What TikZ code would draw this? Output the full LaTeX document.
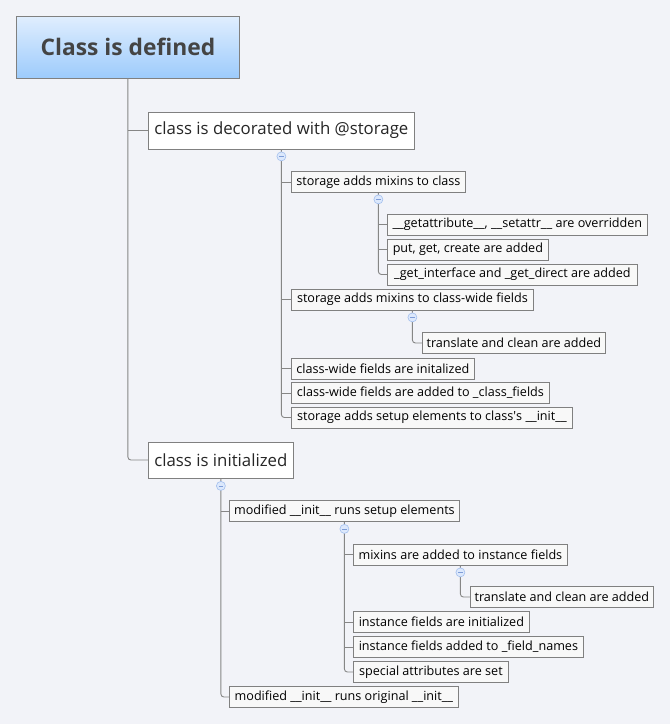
\documentclass[tikz,border=0pt]{standalone}
\usepackage{fontspec}
\setmainfont{Open Sans}
\definecolor{bgcol}{HTML}{F2F3F8}
\definecolor{boxborder}{HTML}{808080}
\definecolor{linecol}{HTML}{868686}
\definecolor{smallfill}{HTML}{F8F8F8}
\definecolor{roottop}{HTML}{E0EEFE}
\definecolor{rootbot}{HTML}{9DCBFC}
\definecolor{roottext}{HTML}{444444}
\definecolor{togfill}{HTML}{DCE8FC}
\definecolor{togdraw}{HTML}{A3BFEE}
\definecolor{togminus}{HTML}{7F9DD8}
\begin{document}
\begin{tikzpicture}[x=1pt,y=-1pt,
  box/.style={draw=boxborder, line width=0.8pt, fill=smallfill, inner sep=0pt,
    minimum height=21pt, text=black, font=\fontsize{12.6}{14}\selectfont},
  lonebox/.style={draw=boxborder, line width=0.8pt, fill=white, inner sep=0pt,
    minimum height=37pt, text=black!85, font=\fontsize{16.8}{19}\selectfont},
  rootbox/.style={draw=boxborder, line width=0.8pt, top color=roottop, bottom color=rootbot,
    inner sep=0pt, minimum width=223pt, minimum height=62pt, text=roottext,
    font=\bfseries\fontsize{22.8}{26}\selectfont},
  conn/.style={draw=linecol, line width=0.9pt, rounded corners=3pt},
  tog/.style={circle, draw=togdraw, fill=togfill, line width=0.6pt, minimum size=9pt, inner sep=0pt,
    path picture={\draw[togminus, line width=0.7pt]
      ([xshift=-2.2pt]path picture bounding box.center) -- ([xshift=2.2pt]path picture bounding box.center);}}
]
\fill[bgcol] (0,0) rectangle (670,724);
\useasboundingbox (0,0) rectangle (670,724);

% root
\node[rootbox, anchor=west] (root) at (16,47) {Class is defined};

% level 1
\node[lonebox, minimum width=266pt, anchor=west] (n1) at (148,130.5) {class is decorated with @storage};
\node[lonebox, minimum width=145pt, minimum height=36pt, anchor=west] (n2) at (148,460) {class is initialized};

% under n1
\node[box, minimum width=174pt, anchor=west] (n11) at (291,182) {storage adds mixins to class};
\node[box, minimum width=260pt, anchor=west] (n111) at (387,224.5) {\_\_getattribute\_\_, \_\_setattr\_\_ are overridden};
\node[box, minimum width=161pt, anchor=west] (n112) at (387,249.5) {put, get, create are added};
\node[box, minimum width=250pt, anchor=west] (n113) at (387,274.5) {\_get\_interface and \_get\_direct are added};
\node[box, minimum width=242pt, anchor=west] (n12) at (291,299.5) {storage adds mixins to class-wide fields};
\node[box, minimum width=183pt, anchor=west] (n121) at (422,343) {translate and clean are added};
\node[box, minimum width=183pt, anchor=west] (n13) at (291,368.5) {class-wide fields are initalized};
\node[box, minimum width=258pt, anchor=west] (n14) at (291,393) {class-wide fields are added to \_class\_fields};
\node[box, minimum width=281pt, anchor=west] (n15) at (291,417.5) {storage adds setup elements to class\textquotesingle s \_\_init\_\_};

% under n2
\node[box, minimum width=230pt, anchor=west] (n21) at (229,511) {modified \_\_init\_\_ runs setup elements};
\node[box, minimum width=214pt, anchor=west] (n211) at (353,554.5) {mixins are added to instance fields};
\node[box, minimum width=183pt, anchor=west] (n2111) at (470,597) {translate and clean are added};
\node[box, minimum width=176pt, anchor=west] (n212) at (353,622) {instance fields are initialized};
\node[box, minimum width=230pt, anchor=west] (n213) at (353,647) {instance fields added to \_field\_names};
\node[box, minimum width=155pt, anchor=west] (n214) at (353,672) {special attributes are set};
\node[box, minimum width=229pt, anchor=west] (n22) at (229,697) {modified \_\_init\_\_ runs original \_\_init\_\_};

% connectors
\draw[conn] (root.south) |- (n2.west);
\draw[conn] (root.south |- n1.west) -- (n1.west);

\draw[conn] (n1.south) |- (n15.west);
\foreach \c in {n11,n12,n13,n14} \draw[conn] (n1.south |- \c.west) -- (\c.west);

\draw[conn] (n11.south) |- (n113.west);
\foreach \c in {n111,n112} \draw[conn] (n11.south |- \c.west) -- (\c.west);

\draw[conn] (n12.south) |- (n121.west);

\draw[conn] (n2.south) |- (n22.west);
\draw[conn] (n2.south |- n21.west) -- (n21.west);

\draw[conn] (n21.south) |- (n214.west);
\foreach \c in {n211,n212,n213} \draw[conn] (n21.south |- \c.west) -- (\c.west);

\draw[conn] (n211.south) |- (n2111.west);

% toggles
\node[tog] (t1) at ([yshift=-7pt]n1.south) {};
\node[tog] (t11) at ([yshift=-6.5pt]n11.south) {};
\node[tog] (t12) at ([yshift=-7pt]n12.south) {};
\node[tog] (t2) at ([yshift=-7.5pt]n2.south) {};
\node[tog] (t21) at ([yshift=-7pt]n21.south) {};
\node[tog] (t211) at ([yshift=-7pt]n211.south) {};
\end{tikzpicture}
\end{document}
